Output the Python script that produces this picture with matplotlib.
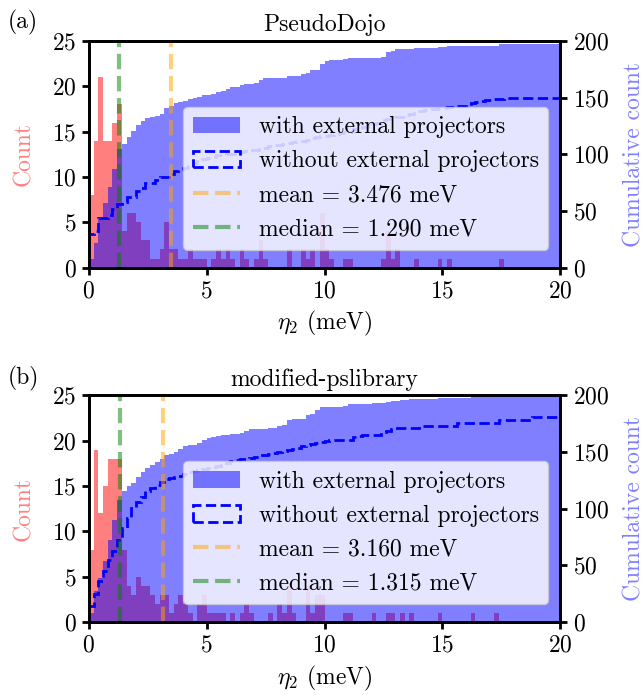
import matplotlib.pyplot as plt
import numpy as np

plt.rcParams["font.family"] = "serif"
plt.rcParams["font.serif"] = ["cmr10"]
plt.rcParams["mathtext.fontset"] = "cm"
plt.rcParams["axes.formatter.use_mathtext"] = True
plt.rcParams["font.size"] = 17
plt.rcParams["axes.linewidth"] = 2

# 0.2 meV bins between 0 and 20 meV
edges = np.linspace(0, 20, 101)
centers = 0.5 * (edges[1:] + edges[:-1])

# (a) PseudoDojo: counts per bin, with / without external projectors
dojo_counts = [
    8, 14, 21, 14, 14, 16, 18, 4, 6, 6, 5, 3, 3, 1, 1, 2, 5, 2, 2, 1,
    1, 2, 1, 1, 1, 0, 1, 2, 1, 2, 1, 0, 2, 1, 0, 1, 3, 1, 0, 0,
    0, 0, 2, 0, 0, 2, 1, 2, 0, 6, 2, 1, 0, 0, 1, 1, 0, 0, 0, 0,
    0, 0, 1, 4, 1, 2, 0, 0, 0, 1, 0, 0, 0, 0, 1, 0, 1, 0, 0, 0,
    0, 0, 0, 0, 0, 0, 0, 1, 0, 0, 0, 0, 0, 0, 0, 0, 0, 0, 0, 0,
]
dojo_noproj = [
    30, 2, 12, 0, 2, 6, 4, 2, 4, 0, 6, 2, 5, 0, 2, 3, 0, 3, 2, 1,
    2, 2, 2, 2, 2, 1, 1, 1, 0, 1, 0, 1, 1, 1, 1, 0, 1, 1, 1, 1,
    0, 1, 1, 1, 1, 0, 1, 1, 1, 1, 0, 1, 1, 1, 1, 0, 2, 0, 2, 1,
    2, 1, 2, 1, 1, 1, 0, 2, 1, 2, 0, 1, 1, 0, 1, 0, 1, 0, 1, 0,
    0, 2, 1, 1, 1, 0, 1, 0, 1, 0, 0, 0, 0, 0, 0, 0, 0, 0, 0, 0,
]
dojo_mean, dojo_median = 3.476, 1.290

# (b) modified-pslibrary
psl_counts = [
    8, 19, 12, 15, 18, 18, 18, 8, 4, 3, 5, 4, 4, 3, 2, 3, 3, 1, 2, 3,
    2, 1, 0, 2, 3, 1, 1, 1, 1, 0, 1, 0, 1, 2, 1, 0, 0, 0, 1, 0,
    2, 1, 4, 1, 0, 0, 4, 1, 3, 3, 0, 0, 0, 0, 1, 1, 0, 0, 0, 0,
    1, 0, 0, 1, 1, 0, 1, 0, 1, 0, 0, 0, 0, 0, 1, 0, 0, 0, 0, 0,
    0, 1, 0, 0, 0, 0, 1, 0, 0, 0, 0, 0, 0, 0, 0, 0, 0, 0, 0, 0,
]
psl_noproj = [
    14, 11, 11, 9, 10, 8, 9, 11, 9, 9, 5, 4, 6, 2, 3, 3, 2, 1, 1, 1,
    2, 1, 1, 1, 1, 1, 1, 1, 1, 1, 2, 1, 1, 0, 1, 1, 1, 0, 1, 1,
    1, 1, 1, 1, 1, 1, 1, 1, 1, 1, 1, 1, 0, 0, 0, 0, 2, 1, 1, 0,
    0, 0, 3, 1, 1, 1, 0, 0, 0, 0, 2, 0, 0, 0, 0, 0, 0, 0, 3, 0,
    0, 0, 0, 0, 0, 0, 0, 2, 0, 0, 0, 0, 0, 0, 3, 0, 0, 0, 0, 0,
]
psl_mean, psl_median = 3.160, 1.315


def draw(ax, counts, noproj, mean, median, title):
    ax2 = ax.twinx()
    ax.hist(centers, bins=edges, weights=counts, color="red", alpha=0.5)
    ax2.hist(centers, bins=edges, weights=counts, cumulative=True,
             color="blue", alpha=0.5, label="with external projectors")
    ax2.hist(centers, bins=edges, weights=noproj, cumulative=True,
             histtype="step", color="blue", ls="--", lw=2,
             label="without external projectors")
    ax2.axvline(mean, color="orange", alpha=0.5, ls="--", lw=3,
                label=f"mean = {mean:.3f} meV")
    ax2.axvline(median, color="green", alpha=0.5, ls="--", lw=3,
                label=f"median = {median:.3f} meV")

    ax.set_xlim(0, 20)
    ax.set_ylim(0, 25)
    ax2.set_ylim(0, 200)
    ax.set_xticks([0, 5, 10, 15, 20])
    ax.set_yticks([0, 5, 10, 15, 20, 25])
    ax2.set_yticks([0, 50, 100, 150, 200])
    for a in (ax, ax2):
        a.tick_params(width=2, length=5, pad=4)
    ax.set_ylabel("Count", color="red", alpha=0.5, labelpad=12)
    ax2.set_ylabel("Cumulative count", color="blue", alpha=0.5, labelpad=10)
    ax.set_xlabel(r"$\eta_2$ (meV)", labelpad=5)
    ax.set_title(title, fontsize=17, pad=7)
    ax2.legend(loc="lower right", bbox_to_anchor=(0.9745, 0.079),
               borderaxespad=0, fontsize=17)


fig, (ax_a, ax_b) = plt.subplots(2, 1, figsize=(6.44, 6.95), dpi=100)
fig.subplots_adjust(left=0.138, right=0.870, top=0.941, bottom=0.105,
                    hspace=0.564)

draw(ax_a, dojo_counts, dojo_noproj, dojo_mean, dojo_median, "PseudoDojo")
draw(ax_b, psl_counts, psl_noproj, psl_mean, psl_median, "modified-pslibrary")

fig.text(0.012, 0.968, "(a)", va="center", fontsize=17)
fig.text(0.012, 0.455, "(b)", va="center", fontsize=17)

fig.savefig("out.png", dpi=100)
